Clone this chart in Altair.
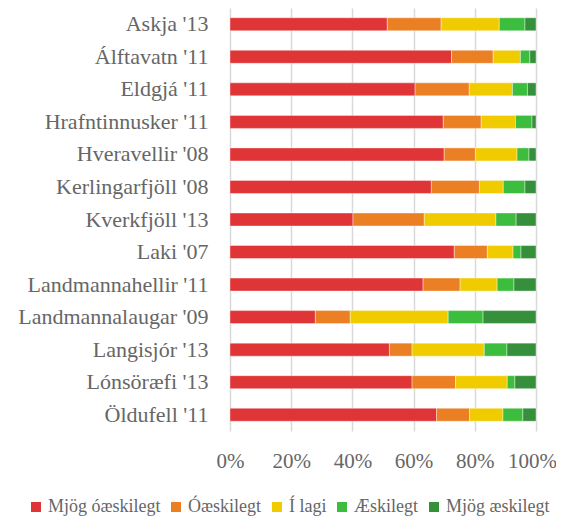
import altair as alt
import pandas as pd

sites = ["Askja '13", "Álftavatn '11", "Eldgjá '11", "Hrafntinnusker '11", "Hveravellir '08",
         "Kerlingarfjöll '08", "Kverkfjöll '13", "Laki '07", "Landmannahellir '11",
         "Landmannalaugar '09", "Langisjór '13", "Lónsöræfi '13", "Öldufell '11"]
categories = ["Mjög óæskilegt", "Óæskilegt", "Í lagi", "Æskilegt", "Mjög æskilegt"]
colors = ["#E03536", "#EB7F23", "#F0CB00", "#3DBD3D", "#368F3A"]

mjog_oaeskilegt = [51.4, 72.4, 60.5, 69.7, 70.0, 65.8, 40.2, 73.3, 63.1, 27.9, 52.1, 59.5, 67.5]
oaeskilegt      = [17.6, 13.6, 17.7, 12.4, 10.2, 15.7, 23.3, 10.8, 12.1, 11.4, 7.4, 14.2, 10.8]
i_lagi          = [19.0, 8.9, 14.1, 11.2, 13.6, 7.8, 23.4, 8.4, 12.1, 32.0, 23.6, 16.9, 10.9]
aeskilegt       = [8.4, 3.1, 4.9, 5.4, 3.9, 7.1, 6.6, 2.6, 5.5, 11.4, 7.4, 2.5, 6.5]
mjog_aeskilegt  = [3.6, 2.0, 2.8, 1.3, 2.3, 3.6, 6.5, 4.9, 7.2, 17.3, 9.5, 6.9, 4.3]

series = [mjog_oaeskilegt, oaeskilegt, i_lagi, aeskilegt, mjog_aeskilegt]
rows = []
for ci, (cat, vals) in enumerate(zip(categories, series)):
    for s, v in zip(sites, vals):
        rows.append({"site": s, "cat": cat, "order": ci, "value": v})
df = pd.DataFrame(rows)

FONT = "Liberation Serif"
TXT = "#666666"

chart = alt.Chart(df).mark_bar(stroke="white", strokeWidth=0.4).encode(
    y=alt.Y("site:N", sort=sites, title=None,
            scale=alt.Scale(paddingInner=0.6, paddingOuter=0.3),
            axis=alt.Axis(domain=False, ticks=False, labelPadding=22, labelFontSize=22,
                          labelFont=FONT, labelColor=TXT, grid=False, labelLimit=300)),
    x=alt.X("value:Q", stack="normalize", title=None,
            scale=alt.Scale(domain=[0, 1]),
            axis=alt.Axis(format="%", values=[0, 0.2, 0.4, 0.6, 0.8, 1.0], domain=False,
                          ticks=False, labelPadding=19, labelFontSize=21, labelFont=FONT,
                          labelColor=TXT, grid=True, gridColor="#d9d9d9", gridWidth=1.5,
                          labelOverlap=False, labelFlush=False,
                          labelOffset={"condition": {"test": "datum.value == 1", "value": -4},
                                       "value": 0})),
    color=alt.Color("cat:N", sort=categories, title=None,
                    scale=alt.Scale(domain=categories, range=colors),
                    legend=alt.Legend(orient="none", direction="horizontal", legendX=-203,
                                      legendY=490, symbolType="square", symbolSize=100,
                                      symbolStrokeWidth=0, labelFontSize=18, labelFont=FONT,
                                      labelColor=TXT, columnPadding=6, labelOffset=3)),
    order=alt.Order("order:Q"),
).properties(
    width=306, height=423,
    autosize=alt.AutoSizeParams(type="none"),
    padding={"left": 222, "top": 0, "right": 20, "bottom": 90},
).configure_view(stroke=None)

chart.save("out.html", embed_options={"renderer": "svg", "actions": False})
